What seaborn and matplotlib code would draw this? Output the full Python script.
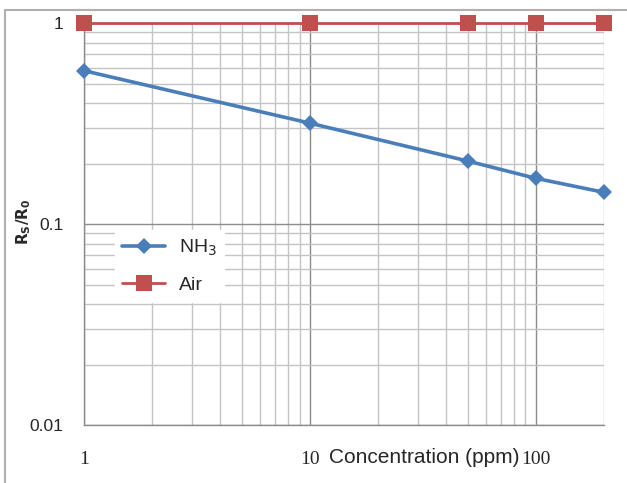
import matplotlib
matplotlib.use("Agg")
import matplotlib.pyplot as plt
import seaborn as sns
import pandas as pd
from matplotlib.lines import Line2D

# Data
concentration = [1, 10, 50, 100, 200]
nh3_ratio = [0.58, 0.318, 0.206, 0.169, 0.144]
air_ratio = [1, 1, 1, 1, 1]

df = pd.DataFrame({
    'Concentration': concentration * 2,
    'Ratio': nh3_ratio + air_ratio,
    'Gas': ['NH$_3$'] * len(concentration) + ['Air'] * len(concentration),
})

sns.set_style("white")
plt.rcParams['font.family'] = ['Liberation Sans', 'DejaVu Sans']

fig = plt.figure(figsize=(6.27, 4.83), dpi=100)
ax = fig.add_axes([0.134, 0.120, 0.829, 0.832])

palette = {'NH$_3$': '#4a7ebb', 'Air': '#c0504d'}
sns.lineplot(data=df[df['Gas'] == 'Air'], x='Concentration', y='Ratio',
             color=palette['Air'], marker='s', markersize=11, linewidth=2,
             markeredgewidth=0, label='Air', ax=ax, zorder=4, clip_on=False)
sns.lineplot(data=df[df['Gas'] == 'NH$_3$'], x='Concentration', y='Ratio',
             color=palette['NH$_3$'], marker='D', markersize=8, linewidth=2.6,
             markeredgewidth=0, label='NH$_3$', ax=ax, zorder=4, clip_on=False)

ax.set_xscale('log')
ax.set_yscale('log')
ax.set_xlim(1, 200)
ax.set_ylim(0.01, 1)

# grid: darker major, lighter minor
ax.grid(True, which='major', color='#8c8c8c', linewidth=1.0)
ax.grid(True, which='minor', color='#c4c4c4', linewidth=1.0)
ax.set_axisbelow(True)

for side in ['top', 'right']:
    ax.spines[side].set_visible(False)
for side in ['left', 'bottom']:
    ax.spines[side].set_color('#8c8c8c')
    ax.spines[side].set_linewidth(1.0)

ax.set_xticks([1, 10, 100])
ax.set_xticklabels(['1', '10', '100'], family='Liberation Serif', fontsize=14)
ax.set_yticks([0.01, 0.1, 1])
ax.set_yticklabels(['0.01', '0.1', '1'], fontsize=12.5)
ax.tick_params(axis='both', which='major', length=6, color='#8c8c8c', width=1,
               direction='out')
ax.tick_params(axis='x', which='major', pad=13)
ax.tick_params(axis='both', which='minor', length=0)
ax.tick_params(axis='y', which='major', pad=9)

ax.set_xlabel('Concentration (ppm)', fontsize=15)
ax.xaxis.set_label_coords(0.655, -0.08)
ax.xaxis.label.set_va('center')
ax.set_ylabel(r'$\mathbf{R}_\mathbf{S}\mathbf{/R}_\mathbf{0}$', fontsize=11)
ax.yaxis.set_label_coords(-0.098, 0.505)

# legend: white patch, no frame, Air below NH3
handles, labels = ax.get_legend_handles_labels()
order = [labels.index('NH$_3$'), labels.index('Air')]
leg = ax.legend([handles[i] for i in order], [labels[i] for i in order],
                loc='upper left', bbox_to_anchor=(0.04, 0.51), frameon=True,
                fontsize=14, handlelength=2.2, labelspacing=0.95, borderpad=0.4,
                handletextpad=0.7)
leg.get_frame().set_facecolor('white')
leg.get_frame().set_edgecolor('white')
leg.get_frame().set_alpha(1)

# outer chart frame (left and top edges)
fig.add_artist(Line2D([5 / 627, 5 / 627], [0, 1 - 10 / 483], color='#b0b0b0', linewidth=1.5))
fig.add_artist(Line2D([5 / 627, 1], [1 - 10 / 483, 1 - 10 / 483], color='#b0b0b0', linewidth=1.5))

fig.savefig('out.png', dpi=100)
